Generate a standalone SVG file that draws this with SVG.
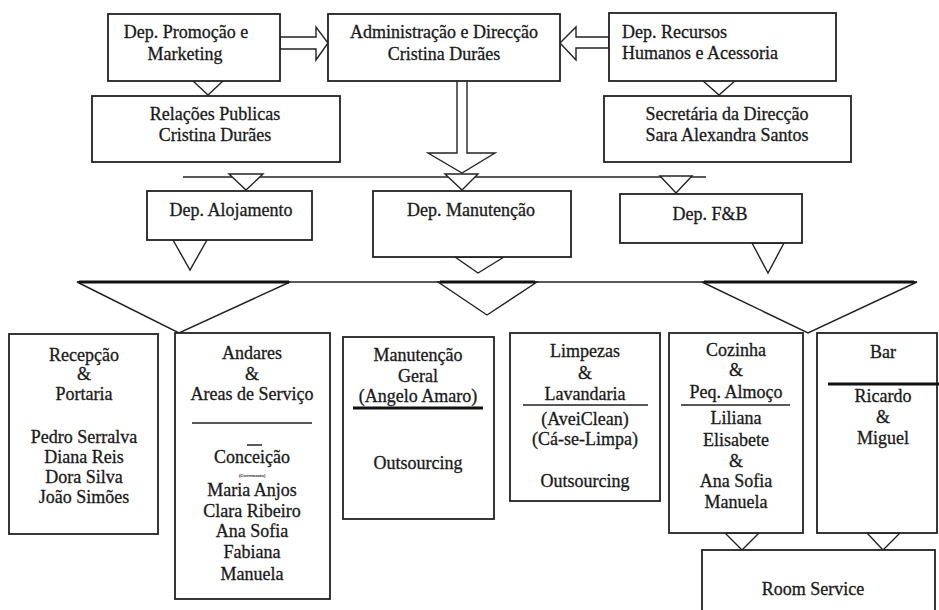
<svg xmlns="http://www.w3.org/2000/svg" width="939" height="610" viewBox="0 0 939 610">
<style>
  .box { fill: #fff; stroke: #222; stroke-width: 1.8; }
  .tri { fill: #fff; stroke: #222; stroke-width: 1.4; stroke-linejoin: miter; }
  .ln { stroke: #222; stroke-width: 1.5; fill: none; }
  .thick { stroke: #111; stroke-width: 3; fill: none; }
  text { font-family: "Liberation Serif", "Times New Roman", serif; font-size: 18px; fill: #1a1a1a; stroke: #1a1a1a; stroke-width: 0.3; }
  .c { text-anchor: middle; }
  .tiny { font-size: 5px; stroke-width: 0.1; }
</style>
<rect width="939" height="610" fill="#fff"/>

<g id="connectors">
  <polygon class="tri" points="280,37 316,37 316,27 328,43 316,60 316,49 280,49"/>
  <polygon class="tri" points="609,37 576,37 576,27 560,43 576,60 576,48 609,48"/>
  <polygon class="tri" points="192,80 224,80 208,95"/>
  <polygon class="tri" points="702,80 736,80 719,95"/>
  <polygon class="tri" points="457,75 467,75 467,153 495,153 462,173 428,153 457,153"/>
  <line class="ln" x1="183" y1="177" x2="706" y2="177"/>
  <polygon class="tri" points="229,174 263,174 246,190"/>
  <polygon class="tri" points="445,174 478,174 462,190"/>
  <polygon class="tri" points="660,176 692,176 676,193"/>
  <polygon class="tri" points="173,240 207,240 190,270"/>
  <polygon class="tri" points="455,257 504,257 478,273"/>
  <polygon class="tri" points="752,243 784,243 768,273"/>
  <line class="ln" x1="77" y1="282" x2="917" y2="282"/>
  <polygon class="tri" points="77,282 290,282 179,333"/>
  <polygon class="tri" points="438,282 537,282 487,315"/>
  <polygon class="tri" points="702,282 917,282 808,333"/>
  <line class="thick" x1="79" y1="282" x2="289" y2="282"/>
  <line class="thick" x1="440" y1="282" x2="535" y2="282"/>
  <line class="thick" x1="704" y1="282" x2="914" y2="282"/>
  <polygon class="tri" points="725,533 759,533 742,550"/>
  <polygon class="tri" points="867,533 900,533 883,550"/>
</g>

<g id="promocao">
  <rect class="box" x="108" y="14" width="172" height="67"/>
  <text class="c" x="186" y="38">Dep. Promoção e</text>
  <text class="c" x="185" y="60">Marketing</text>
</g>
<g id="administracao">
  <rect class="box" x="328" y="14" width="232" height="67"/>
  <text class="c" x="444" y="38">Administração e Direcção</text>
  <text class="c" x="444" y="60">Cristina Durães</text>
</g>
<g id="recursos">
  <rect class="box" x="609" y="13" width="227" height="68"/>
  <text x="622" y="38">Dep. Recursos</text>
  <text x="622" y="59">Humanos e Acessoria</text>
</g>
<g id="relacoes">
  <rect class="box" x="92" y="96" width="248" height="66"/>
  <text class="c" x="215" y="120">Relações Publicas</text>
  <text class="c" x="215" y="141">Cristina Durães</text>
</g>
<g id="secretaria">
  <rect class="box" x="604" y="96" width="247" height="66"/>
  <text class="c" x="727" y="120">Secretária da Direcção</text>
  <text class="c" x="727" y="141">Sara Alexandra Santos</text>
</g>

<g id="alojamento">
  <rect class="box" x="147" y="191" width="165" height="49"/>
  <text class="c" x="231" y="216">Dep. Alojamento</text>
</g>
<g id="manutencao">
  <rect class="box" x="373" y="191" width="198" height="66"/>
  <text class="c" x="471" y="216">Dep. Manutenção</text>
</g>
<g id="fb">
  <rect class="box" x="620" y="194" width="182" height="49"/>
  <text class="c" x="710" y="220">Dep. F&amp;B</text>
</g>

<g id="recepcao">
  <rect class="box" x="9" y="334" width="149" height="200"/>
  <text class="c" x="84" y="361">Recepção</text>
  <text class="c" x="84" y="380">&amp;</text>
  <text class="c" x="84" y="400">Portaria</text>
  <text class="c" x="84" y="443">Pedro Serralva</text>
  <text class="c" x="84" y="463">Diana Reis</text>
  <text class="c" x="84" y="483">Dora Silva</text>
  <text class="c" x="84" y="503">João Simões</text>
</g>
<g id="andares">
  <rect class="box" x="175" y="333" width="155" height="266"/>
  <text class="c" x="252" y="359">Andares</text>
  <text class="c" x="252" y="380">&amp;</text>
  <text class="c" x="252" y="400">Areas de Serviço</text>
  <line class="ln" x1="192" y1="423" x2="312" y2="423"/>
  <line class="ln" x1="247" y1="445" x2="262" y2="445"/>
  <text class="c" x="252" y="463">Conceição</text>
  <text class="c tiny" x="252" y="477">(Governanta)</text>
  <text class="c" x="252" y="496">Maria  Anjos</text>
  <text class="c" x="252" y="517">Clara Ribeiro</text>
  <text class="c" x="252" y="537">Ana Sofia</text>
  <text class="c" x="252" y="558">Fabiana</text>
  <text class="c" x="252" y="580">Manuela</text>
</g>
<g id="manutencao-geral">
  <rect class="box" x="343" y="337" width="151" height="182"/>
  <text class="c" x="418" y="361">Manutenção</text>
  <text class="c" x="418" y="382">Geral</text>
  <text class="c" x="418" y="402">(Angelo Amaro)</text>
  <line class="thick" x1="353" y1="408" x2="483" y2="408"/>
  <text class="c" x="418" y="469">Outsourcing</text>
</g>
<g id="limpezas">
  <rect class="box" x="510" y="333" width="150" height="168"/>
  <text class="c" x="585" y="357">Limpezas</text>
  <text class="c" x="585" y="379">&amp;</text>
  <text class="c" x="585" y="400">Lavandaria</text>
  <line class="ln" x1="523" y1="405" x2="648" y2="405" stroke-width="2"/>
  <text class="c" x="585" y="425">(AveiClean)</text>
  <text class="c" x="585" y="445">(Cá-se-Limpa)</text>
  <text class="c" x="585" y="487">Outsourcing</text>
</g>
<g id="cozinha">
  <rect class="box" x="669" y="333" width="134" height="200"/>
  <text class="c" x="736" y="356">Cozinha</text>
  <text class="c" x="736" y="376">&amp;</text>
  <text class="c" x="736" y="398">Peq. Almoço</text>
  <line class="ln" x1="681" y1="405" x2="790" y2="405"/>
  <text class="c" x="736" y="424">Liliana</text>
  <text class="c" x="736" y="446">Elisabete</text>
  <text class="c" x="736" y="467">&amp;</text>
  <text class="c" x="736" y="487">Ana Sofia</text>
  <text class="c" x="736" y="508">Manuela</text>
</g>
<g id="bar">
  <rect class="box" x="817" y="333" width="120" height="200"/>
  <text class="c" x="883" y="358">Bar</text>
  <line class="thick" x1="828" y1="384" x2="939" y2="384"/>
  <text class="c" x="883" y="402">Ricardo</text>
  <text class="c" x="883" y="423">&amp;</text>
  <text class="c" x="883" y="444">Miguel</text>
</g>
<g id="room-service">
  <rect class="box" x="702" y="550" width="233" height="70"/>
  <text class="c" x="813" y="595">Room Service</text>
</g>
</svg>
